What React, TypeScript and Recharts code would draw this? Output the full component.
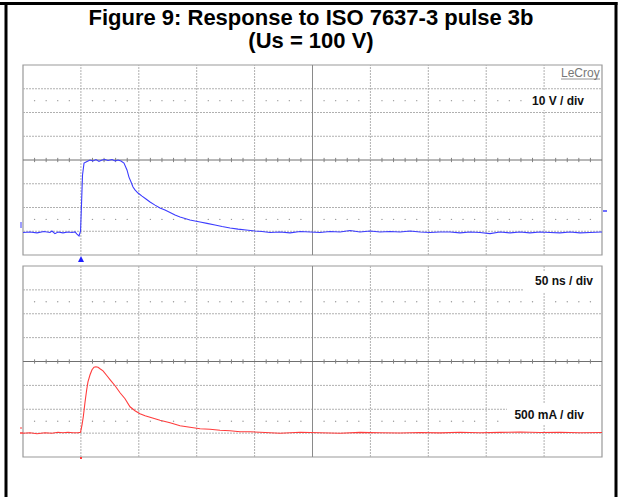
import React from "react";
import { LineChart, Line, XAxis, YAxis, ReferenceLine, ReferenceArea, ReferenceDot } from "recharts";

// Top trace: voltage (10 V/div), time 50 ns/div
const blueTime = [0, 6.0, 12.1, 18.1, 23.3, 25.0, 27.6, 30.2, 34.5, 38.9, 42.3, 44.9, 46.6, 48.4, 49.7, 50.5, 51.4, 52.7, 55.3, 57.9, 60.5, 63.0, 65.6, 68.2, 70.8, 73.4, 76.9, 79.5, 82.0, 84.6, 87.2, 89.8, 91.5, 93.3, 95.0, 96.7, 99.3, 102.8, 106.2, 109.7, 114.0, 118.3, 122.6, 127.0, 131.3, 135.6, 139.9, 144.2, 148.5, 152.9, 158.9, 165.8, 171.9, 178.8, 185.7, 192.6, 200.4, 206.4, 213.3, 222.0, 230.6, 239.3, 247.9, 256.5, 265.1, 273.8, 282.4, 291.0, 299.7, 308.3, 316.9, 325.6, 334.2, 342.8, 351.5, 360.1, 368.7, 377.4, 386.0, 394.6, 403.3, 411.9, 420.6, 429.2, 437.8, 446.5, 455.1, 463.7, 472.4, 481.0, 489.6, 500];
const blueVolts = [-30.5, -30.3, -30.7, -30.1, -30.5, -29.9, -31.0, -30.3, -30.7, -30.3, -30.5, -30.3, -31.2, -32.0, -29.9, -19.0, -6.3, -1.3, -0.6, 0, -0.4, 0.2, -0.6, 0, 0.2, -0.2, 0.2, -0.4, 0, -0.4, -1.3, -4.2, -7.2, -9.3, -11.4, -12.6, -13.9, -15.2, -16.4, -17.7, -19.0, -20.2, -21.1, -22.1, -23.2, -24.0, -24.6, -25.3, -25.7, -26.1, -26.7, -27.4, -28.0, -28.6, -29.1, -29.5, -29.9, -30.1, -30.5, -30.3, -30.7, -30.1, -30.3, -30.5, -30.1, -30.3, -29.7, -30.3, -29.9, -30.3, -30.1, -30.3, -29.9, -30.3, -30.5, -30.3, -30.3, -30.7, -30.3, -30.5, -31.0, -30.3, -30.7, -30.3, -30.7, -30.3, -30.5, -30.7, -30.3, -30.7, -30.5, -30.3];

// Bottom trace: current (500 mA/div)
const redTime = [0, 6.0, 12.1, 19.0, 25.0, 30.2, 34.5, 38.9, 43.2, 47.5, 49.7, 51.0, 52.1, 53.6, 55.0, 56.1, 57.9, 59.6, 61.3, 63.0, 64.8, 66.5, 69.1, 72.5, 76.0, 79.5, 83.8, 88.1, 92.4, 96.7, 101.0, 105.4, 109.7, 118.3, 127.0, 135.6, 144.2, 152.9, 161.5, 170.1, 178.8, 187.4, 196.0, 204.7, 222.0, 239.3, 256.5, 273.8, 291.0, 308.3, 325.6, 342.8, 360.1, 377.4, 394.6, 411.9, 429.2, 446.5, 463.7, 481.0, 500];
const redMilliamps = [-1502, -1492, -1513, -1492, -1502, -1481, -1492, -1481, -1492, -1492, -1481, -1324, -1151, -843, -592, -425, -278, -173, -121, -111, -121, -153, -195, -299, -404, -508, -655, -780, -948, -1031, -1094, -1136, -1167, -1230, -1282, -1345, -1377, -1408, -1418, -1439, -1450, -1471, -1471, -1481, -1502, -1481, -1492, -1502, -1485, -1492, -1498, -1488, -1495, -1481, -1492, -1485, -1478, -1488, -1481, -1492, -1488];

const titleLines = ["Figure 9: Response to ISO 7637-3 pulse 3b", "(Us = 100 V)"];
const topScaleLabel = "10 V / div";
const timeScaleLabel = "50 ns / div";
const bottomScaleLabel = "500 mA / div";
const brandLabel = "LeCroy";

const W = 621;
const H = 497;
const FONT = "'Liberation Sans', Arial, sans-serif";

const blueData = blueTime.map((t, i) => ({ t, v: blueVolts[i] }));
const redData = redTime.map((t, i) => ({ t, v: redMilliamps[i] }));

function scopeGrid(xDiv: number, yDiv: number) {
  const els: React.ReactNode[] = [];
  const xMax = xDiv * 10;
  const yMax = yDiv * 4;
  for (let i = 1; i < 10; i++) {
    if (i === 5) continue;
    els.push(<ReferenceLine key={"vx" + i} x={i * xDiv} stroke="#b0b0b0" strokeDasharray="2 1" />);
  }
  for (let j = -3; j <= 3; j++) {
    if (j === 0) continue;
    els.push(<ReferenceLine key={"hy" + j} y={j * yDiv} stroke="#b0b0b0" strokeDasharray="2 1" />);
  }
  els.push(<ReferenceLine key="cx" x={5 * xDiv} stroke="#8a8a8a" />);
  els.push(<ReferenceLine key="cy" y={0} stroke="#707070" />);
  // ticks on horizontal center line
  for (let k = 1; k < 50; k++) {
    if (k % 5 === 0) continue;
    const x = (k / 5) * xDiv;
    els.push(
      <ReferenceLine key={"tx" + k} segment={[{ x, y: -0.09 * yDiv }, { x, y: 0.09 * yDiv }]} stroke="#808080" />
    );
  }
  // dot rows at +/- 2.5 div
  [2.5, -2.5].forEach((r) => {
    for (let k = 1; k < 50; k++) {
      if (k % 5 === 0) continue;
      els.push(
        <ReferenceDot key={"d" + r + "_" + k} x={(k / 5) * xDiv} y={r * yDiv} r={0.7} fill="#9a9a9a" stroke="none" />
      );
    }
  });
  els.push(
    <ReferenceArea key="frame" x1={0} x2={xMax} y1={-yMax} y2={yMax} fill="none" fillOpacity={0} stroke="#999" strokeWidth={1.2} />
  );
  return els;
}

export default function App() {
  return (
    <div style={{ position: "absolute", left: 0, top: 0, width: W, height: H, background: "#fff", fontFamily: FONT }}>
      <div style={{ position: "absolute", left: 0, top: 0 }}>
        <LineChart width={W} height={H} data={blueData} margin={{ top: 65, left: 23, right: W - 602, bottom: H - 255 }}>
          <XAxis dataKey="t" type="number" domain={[0, 500]} hide />
          <YAxis type="number" domain={[-40, 40]} hide />
          {scopeGrid(50, 10)}
          <Line dataKey="v" stroke="#3c3cff" strokeWidth={1.1} dot={false} isAnimationActive={false} />
        </LineChart>
      </div>
      <div style={{ position: "absolute", left: 0, top: 0 }}>
        <LineChart width={W} height={H} data={redData} margin={{ top: 266, left: 23, right: W - 602, bottom: H - 457 }}>
          <XAxis dataKey="t" type="number" domain={[0, 500]} hide />
          <YAxis type="number" domain={[-2000, 2000]} hide />
          {scopeGrid(50, 500)}
          <Line dataKey="v" stroke="#ff3c3c" strokeWidth={1.1} dot={false} isAnimationActive={false} />
        </LineChart>
      </div>
      <svg width={W} height={H} style={{ position: "absolute", left: 0, top: 0, pointerEvents: "none" }}>
        {/* outer border */}
        <line x1={0} y1={3.5} x2={617.5} y2={3.5} stroke="#000" strokeWidth={3} />
        <line x1={6} y1={2} x2={6} y2={H} stroke="#000" strokeWidth={3} />
        <line x1={616} y1={2} x2={616} y2={H} stroke="#000" strokeWidth={3} />
        {/* title */}
        <text x={311} y={25} textAnchor="middle" fontFamily={FONT} fontWeight="bold" fontSize={22} fill="#000">
          {titleLines[0]}
        </text>
        <text x={311} y={48} textAnchor="middle" fontFamily={FONT} fontWeight="bold" fontSize={22} fill="#000">
          {titleLines[1]}
        </text>
        {/* label boxes */}
        <rect x={524} y={91} width={77} height={19} fill="#fff" />
        <rect x={524} y={271} width={77} height={21} fill="#fff" />
        <rect x={507} y={404} width={94} height={21} fill="#fff" />
        <text x={561} y={77} fontFamily={FONT} fontSize={12} fill="#777">
          {brandLabel}
        </text>
        <line x1={561} y1={79} x2={600} y2={79} stroke="#777" strokeWidth={0.8} />
        <text x={584} y={105} textAnchor="end" fontFamily={FONT} fontWeight="bold" fontSize={12} fill="#111">
          {topScaleLabel}
        </text>
        <text x={593} y={285} textAnchor="end" fontFamily={FONT} fontWeight="bold" fontSize={12} fill="#111">
          {timeScaleLabel}
        </text>
        <text x={584} y={419} textAnchor="end" fontFamily={FONT} fontWeight="bold" fontSize={12} fill="#111">
          {bottomScaleLabel}
        </text>
        {/* scope markers */}
        <polygon points="78,262 84,262 81,256" fill="#2020ff" />
        <line x1={21} y1={222} x2={21} y2={228} stroke="#3c3cff" strokeWidth={1} />
        <line x1={603} y1={211} x2={607} y2={211} stroke="#3c3cff" strokeWidth={1.5} />
        <line x1={20} y1={428} x2={22} y2={428} stroke="#ff3c3c" strokeWidth={1} />
        <line x1={20} y1={433} x2={23} y2={433} stroke="#ff3c3c" strokeWidth={1.5} />
        <rect x={80} y={457} width={2} height={2} fill="#ff3c3c" />
      </svg>
    </div>
  );
}
